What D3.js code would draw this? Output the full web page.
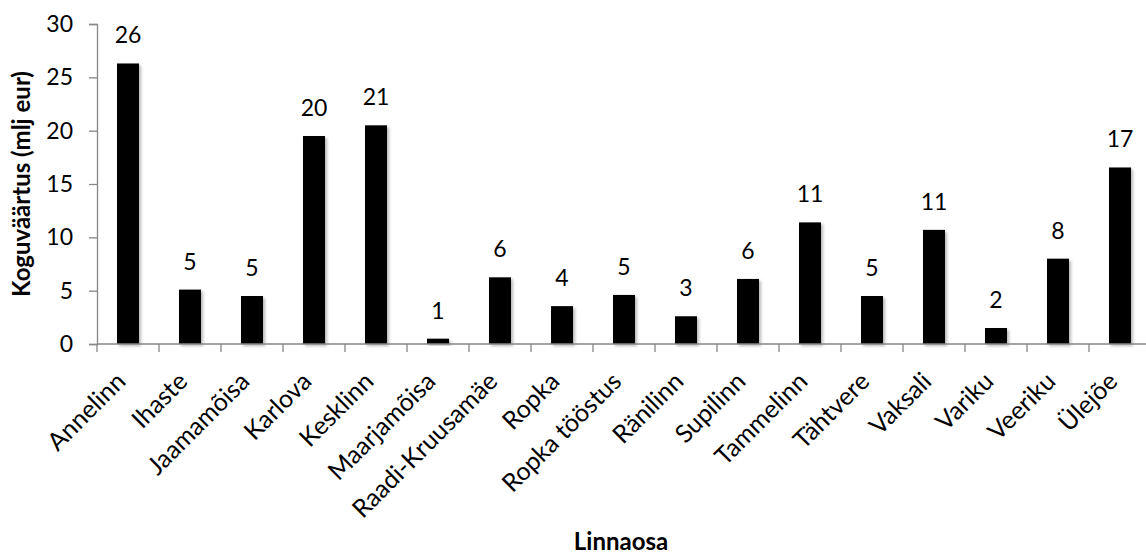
<!DOCTYPE html>
<html>
<head>
<meta charset="utf-8">
<script src="https://cdn.jsdelivr.net/npm/d3@7"></script>
<style>
  html, body { margin: 0; padding: 0; background: #fff; }
  svg text { font-family: Lato, "Open Sans", "Liberation Sans", sans-serif; fill: #000; }
</style>
</head>
<body>
<svg id="chart" width="1146" height="554"></svg>
<script>
// Tartu linnaosade koguväärtus (mlj eur)
const categories = ["Annelinn", "Ihaste", "Jaamamõisa", "Karlova", "Kesklinn", "Maarjamõisa",
  "Raadi-Kruusamäe", "Ropka", "Ropka tööstus", "Ränilinn", "Supilinn", "Tammelinn",
  "Tähtvere", "Vaksali", "Variku", "Veeriku", "Ülejõe"];
const values = [26.3, 5.1, 4.5, 19.5, 20.5, 0.5, 6.25, 3.55, 4.6, 2.6, 6.1, 11.4,
  4.5, 10.7, 1.5, 8.0, 16.55];
const yTicks = [0, 5, 10, 15, 20, 25, 30];
const yTitle = "Koguväärtus (mlj eur)";
const xTitle = "Linnaosa";

const svg = d3.select("#chart");
const plotLeft = 97, plotTop = 24, plotBottom = 344, plotRight = 1151;

const x = d3.scaleBand().domain(categories)
  .range([plotLeft, plotRight])
  .paddingInner(0.645).paddingOuter(0.3225);
const y = d3.scaleLinear().domain([0, 30]).range([plotBottom, plotTop]);

// soft shadow under the bars
const defs = svg.append("defs");
const f = defs.append("filter").attr("id", "shadow")
  .attr("x", "-30%").attr("y", "-10%").attr("width", "170%").attr("height", "130%");
f.append("feDropShadow").attr("dx", 2).attr("dy", 2).attr("stdDeviation", 1.6)
  .attr("flood-color", "#000").attr("flood-opacity", 0.28);

// bars
svg.append("g").selectAll("rect").data(values).join("rect")
  .attr("x", (d, i) => x(categories[i]))
  .attr("y", d => y(d))
  .attr("width", x.bandwidth())
  .attr("height", d => y(0) - y(d))
  .attr("fill", "#000")
  .attr("filter", "url(#shadow)");

// value labels
svg.append("g").selectAll("text").data(values).join("text")
  .attr("x", (d, i) => x(categories[i]) + x.bandwidth() / 2)
  .attr("y", d => y(d) - 20)
  .attr("text-anchor", "middle")
  .attr("font-size", 23)
  .text(d => d3.format(".0f")(Math.round(d)));

// y axis
const yAxis = svg.append("g").attr("transform", `translate(${plotLeft},0)`)
  .call(d3.axisLeft(y).tickValues(yTicks).tickSize(8).tickPadding(16).tickFormat(d3.format("d")));
yAxis.select(".domain").attr("stroke", "#868686").attr("stroke-width", 1.3);
yAxis.selectAll(".tick line").attr("stroke", "#868686").attr("stroke-width", 1.3);
yAxis.selectAll(".tick text").attr("font-size", 23).attr("font-family", "Lato, 'Open Sans', sans-serif");

// x axis with ticks on category boundaries
const xAxisG = svg.append("g").attr("transform", `translate(0,${plotBottom})`);
xAxisG.append("line")
  .attr("x1", plotLeft).attr("x2", plotRight)
  .attr("stroke", "#868686").attr("stroke-width", 1.3);
const step = x.step();
xAxisG.selectAll("line.tk").data(d3.range(categories.length + 1)).join("line")
  .attr("class", "tk")
  .attr("x1", i => plotLeft + i * step)
  .attr("x2", i => plotLeft + i * step)
  .attr("y1", 0).attr("y2", 8)
  .attr("stroke", "#868686").attr("stroke-width", 1.3);

// category labels, rotated
xAxisG.selectAll("text.cat").data(categories).join("text")
  .attr("class", "cat")
  .attr("text-anchor", "end")
  .attr("font-size", 25)
  .attr("transform", c => `translate(${x(c) + x.bandwidth() / 2 - 1},${39}) rotate(-45)`)
  .text(c => c);

// axis titles
svg.append("text")
  .attr("transform", `translate(30,${(plotTop + plotBottom) / 2}) rotate(-90)`)
  .attr("text-anchor", "middle")
  .attr("font-size", 24).attr("font-weight", "bold")
  .text(yTitle);

svg.append("text")
  .attr("x", (plotLeft + plotRight) / 2 - 3).attr("y", 550)
  .attr("text-anchor", "middle")
  .attr("font-size", 24).attr("font-weight", "bold")
  .text(xTitle);
</script>
</body>
</html>
